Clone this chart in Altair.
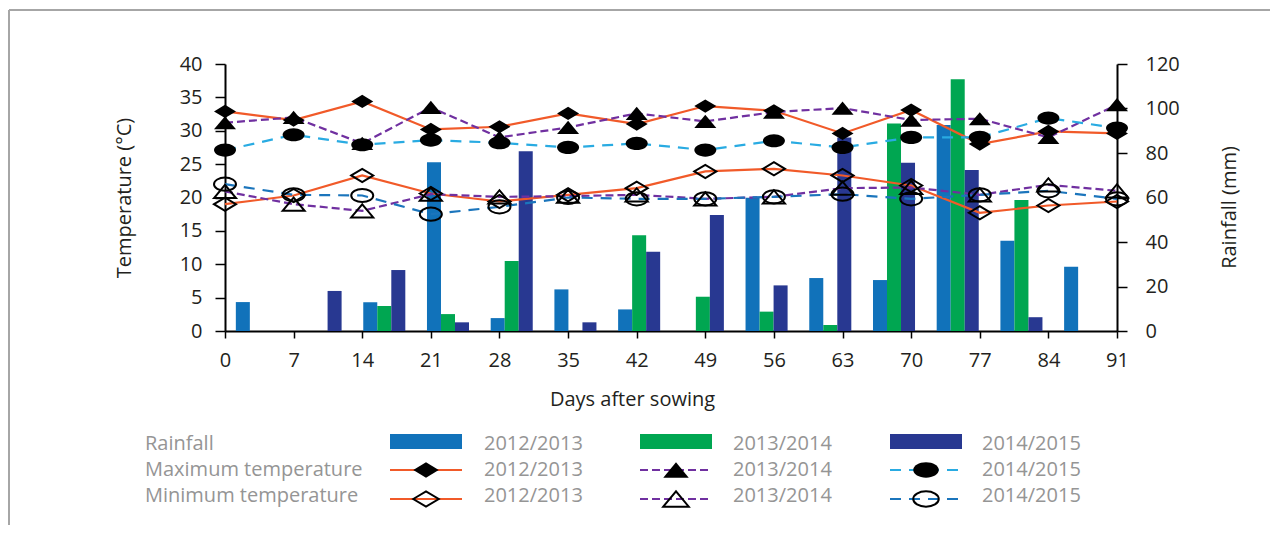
import altair as alt
import pandas as pd

# ---------------- data ----------------
days = [0, 7, 14, 21, 28, 35, 42, 49, 56, 63, 70, 77, 84, 91]
seasons = ["2012/2013", "2013/2014", "2014/2015"]
row_labels = ["Rainfall", "Maximum temperature", "Minimum temperature"]

rain_2012_13 = [13.0, 0, 12.9, 75.8, 5.8, 18.7, 9.7, 0, 59.9, 23.8, 22.9, 92.6, 40.6, 28.9]
rain_2013_14 = [0, 0, 11.2, 7.6, 31.5, 0, 43.0, 15.4, 8.7, 2.7, 93.3, 113.1, 58.9, 0]
rain_2014_15 = [0, 18.0, 27.4, 3.9, 80.8, 3.9, 35.6, 52.1, 20.5, 87.0, 75.6, 72.4, 6.2, 0]

tmax_2012_13 = [32.9, 31.6, 34.4, 30.2, 30.6, 32.6, 31.0, 33.7, 33.0, 29.6, 33.1, 28.0, 29.9, 29.6]
tmax_2013_14 = [31.2, 32.0, 28.1, 33.5, 29.0, 30.5, 32.6, 31.4, 32.8, 33.4, 31.6, 31.8, 29.0, 33.9]
tmax_2014_15 = [27.1, 29.4, 27.9, 28.6, 28.2, 27.5, 28.1, 27.1, 28.5, 27.5, 29.0, 29.0, 31.9, 30.4]
tmin_2012_13 = [19.0, 20.3, 23.3, 20.6, 19.4, 20.4, 21.4, 23.9, 24.3, 23.3, 21.8, 17.7, 18.8, 19.4]
tmin_2013_14 = [20.9, 19.0, 18.0, 20.5, 20.1, 20.2, 20.4, 19.8, 20.1, 21.4, 21.5, 20.4, 21.9, 21.0]
tmin_2014_15 = [22.0, 20.4, 20.3, 17.5, 18.6, 20.0, 19.8, 19.8, 20.1, 20.5, 19.8, 20.4, 21.0, 19.8]

# ---------------- style ----------------
W, H = 892, 267
FONT = "Open Sans"
BAR_COLORS = ["#1172ba", "#00a651", "#283891"]
ORANGE = "#f15a29"
PURPLE = "#7030a0"
CYAN = "#29abe2"
BLUE = "#1b75bc"
LEG_GRAY = "#959595"
TXT = "#231f20"

DIAMOND = "M -1 0 L 0 -0.6 L 1 0 L 0 0.6 Z"
TRIANGLE = "M -1 0.6 L 0 -0.6 L 1 0.6 Z"
ELLIPSE = "M -1 0 A 1 0.6 0 1 1 1 0 A 1 0.6 0 1 1 -1 0 Z"

axis_style = dict(
    labelFontSize=20, titleFontSize=20, titleFontWeight="normal",
    labelColor=TXT, titleColor=TXT, labelFont=FONT, titleFont=FONT,
    domainColor="black", domainWidth=2, tickColor="black", tickWidth=1.5,
    grid=False, labelFlush=False,
)

# ---------------- rainfall bars ----------------
rain_rows = []
for s, vals in zip(seasons, [rain_2012_13, rain_2013_14, rain_2014_15]):
    for d, v in zip(days, vals):
        rain_rows.append({"day": d, "season": s, "rain": v})
rain_df = pd.DataFrame(rain_rows)

bars = alt.Chart(rain_df).mark_bar().encode(
    x=alt.X("day:O", scale=alt.Scale(paddingInner=0.34, paddingOuter=0.17), axis=None),
    xOffset=alt.XOffset("season:N", scale=alt.Scale(domain=seasons)),
    y=alt.Y(
        "rain:Q",
        scale=alt.Scale(domain=[0, 120], nice=False),
        axis=alt.Axis(
            orient="right", values=list(range(0, 121, 20)), title="Rainfall (mm)",
            titleAngle=270, titleBaseline="alphabetic", titleAlign="center",
            titleX=118, titleY=143, tickSize=10, labelPadding=18, **axis_style,
        ),
    ),
    color=alt.Color("season:N", scale=alt.Scale(domain=seasons, range=BAR_COLORS), legend=None),
)

# ---------------- temperature lines ----------------
x_axis = alt.Axis(
    values=days, title="Days after sowing", tickSize=7, labelPadding=12,
    titleX=407, titleY=74, titleAlign="center", titleBaseline="alphabetic", **axis_style,
)
y_axis = alt.Axis(
    values=list(range(0, 41, 5)), title="Temperature (°C)", tickSize=10, labelPadding=13,
    titleAngle=270, titleX=-95, titleBaseline="alphabetic", titleAlign="center", **axis_style,
)
x_enc = alt.X("day:Q", scale=alt.Scale(domain=[0, 91], nice=False, zero=False), axis=x_axis)
y_enc = alt.Y("temp:Q", scale=alt.Scale(domain=[0, 40], nice=False), axis=y_axis)

line_styles = [
    (ORANGE, None, DIAMOND),
    (PURPLE, [8, 4], TRIANGLE),
    (CYAN, [11, 8], ELLIPSE),
]
min_colors = [ORANGE, PURPLE, BLUE]

temp_series = [
    (tmax_2012_13, 0, True), (tmax_2013_14, 1, True), (tmax_2014_15, 2, True),
    (tmin_2012_13, 0, False), (tmin_2013_14, 1, False), (tmin_2014_15, 2, False),
]


def line_kw(k, filled):
    col, dash, _ = line_styles[k]
    if not filled:
        col = min_colors[k]
    kw = dict(color=col, strokeWidth=2.2)
    if dash:
        kw["strokeDash"] = dash
    return kw


def point_kw(k, filled, size):
    shape = line_styles[k][2]
    kw = dict(shape=shape, size=size, opacity=1, color="black")
    if filled:
        kw.update(filled=True, strokeWidth=1)
    else:
        kw.update(filled=False, strokeWidth=2)
    return kw


lines, points = [], []
for vals, k, filled in temp_series:
    df = pd.DataFrame({"day": days, "temp": vals})
    lines.append(alt.Chart(df).mark_line(**line_kw(k, filled)).encode(x=x_enc, y=y_enc))
    points.append(alt.Chart(df).mark_point(**point_kw(k, filled, 484)).encode(x=x_enc, y=y_enc))

temp = alt.layer(*lines, *points)

# ---------------- custom legend & frame ----------------
one = pd.DataFrame({"k": [0]})
ROW_Y = [380, 406, 432]
LINE_Y = [None, 406, 435]
deco = []
for i, lab in enumerate(row_labels):
    deco.append(
        alt.Chart(one).mark_text(align="left", baseline="middle", fontSize=20, color=LEG_GRAY, font=FONT)
        .encode(x=alt.value(-80), y=alt.value(ROW_Y[i]), text=alt.value(lab))
    )
for c, s in enumerate(seasons):
    x0 = 165 + 250 * c
    deco.append(
        alt.Chart(one).mark_rect(color=BAR_COLORS[c])
        .encode(x=alt.value(x0), x2=alt.value(x0 + 72), y=alt.value(370), y2=alt.value(385))
    )
    for r in range(3):
        deco.append(
            alt.Chart(one).mark_text(align="left", baseline="middle", fontSize=20, color=LEG_GRAY, font=FONT)
            .encode(x=alt.value(259 + 249 * c), y=alt.value(ROW_Y[r]), text=alt.value(s))
        )
    for r, filled in ((1, True), (2, False)):
        deco.append(
            alt.Chart(one).mark_rule(**line_kw(c, filled))
            .encode(x=alt.value(x0), x2=alt.value(x0 + 72), y=alt.value(LINE_Y[r]))
        )
        deco.append(
            alt.Chart(one).mark_point(**point_kw(c, filled, 650))
            .encode(x=alt.value(x0 + 36), y=alt.value(LINE_Y[r]))
        )

FRAME = "#a6a6a6"
deco.append(
    alt.Chart(one).mark_rule(color=FRAME, strokeWidth=2)
    .encode(x=alt.value(-216), x2=alt.value(1045), y=alt.value(-54))
)
deco.append(
    alt.Chart(one).mark_rule(color=FRAME, strokeWidth=2)
    .encode(x=alt.value(-216), y=alt.value(-54), y2=alt.value(461))
)

chart = (
    alt.layer(bars, temp, *deco)
    .resolve_scale(x="independent", y="independent")
    .properties(width=W, height=H, padding={"left": 0, "top": 1, "right": 0, "bottom": 0})
    .configure(font=FONT)
    .configure_view(stroke=None)
)

chart.save("out.html", embed_options={"renderer": "svg", "actions": False})
